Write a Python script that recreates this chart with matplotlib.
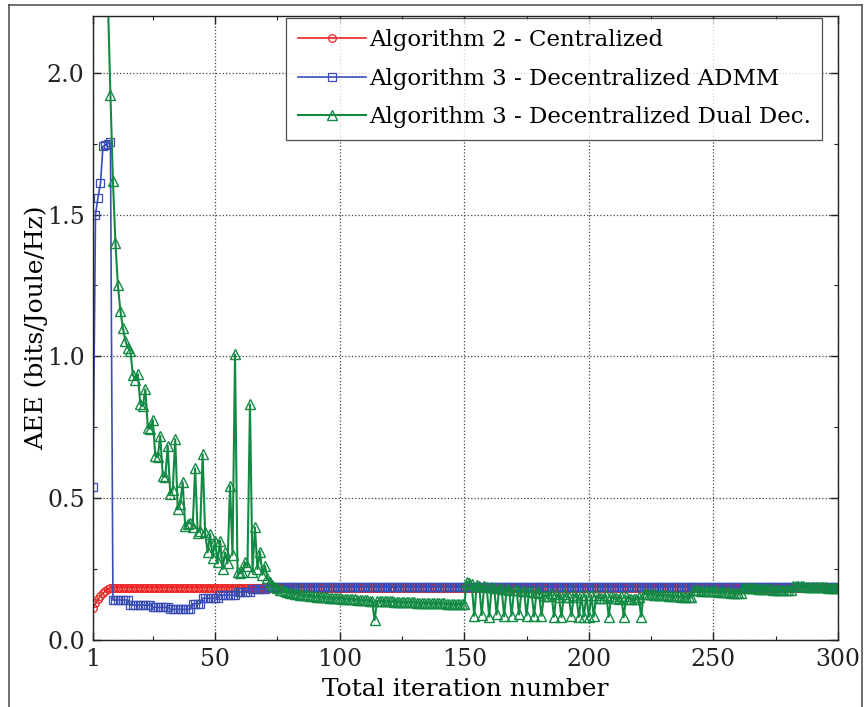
import numpy as np
import matplotlib
matplotlib.use("Agg")
import matplotlib.pyplot as plt
from matplotlib.lines import Line2D
from matplotlib.ticker import MultipleLocator, FormatStrFormatter

# Algorithm 2 - Centralized: climbs for a few iterations, then flat
central_head = [0.112, 0.129, 0.143, 0.155, 0.164, 0.174, 0.180, 0.184]
central_level = 0.185
central_tail_len = 292

# Algorithm 3 - ADMM: first 8 iterations, then stepwise plateaus
admm_head = [0.54, 1.50, 1.56, 1.61, 1.74, 1.745, 1.75, 1.755]
admm_levels = [0.141, 0.123, 0.115, 0.108, 0.128, 0.147, 0.158, 0.170, 0.180, 0.188]
admm_runs = [7, 9, 7, 9, 4, 7, 7, 6, 6, 230]

# Algorithm 3 - Dual decomposition, iterations 1..300
dual_dec = [
    6.0, 5.2, 4.5, 3.8, 3.2, 2.7, 2.25, 1.92, 1.62, 1.40,
    1.25, 1.16, 1.10, 1.055, 1.03, 1.02, 0.935, 0.917, 0.937, 0.831,
    0.825, 0.884, 0.749, 0.745, 0.776, 0.649, 0.645, 0.720, 0.578, 0.575,
    0.684, 0.514, 0.530, 0.708, 0.461, 0.480, 0.556, 0.402, 0.410, 0.414,
    0.400, 0.605, 0.379, 0.385, 0.655, 0.380, 0.309, 0.373, 0.290, 0.350,
    0.274, 0.350, 0.250, 0.309, 0.270, 0.543, 0.300, 1.007, 0.238, 0.235,
    0.240, 0.274, 0.260, 0.831, 0.240, 0.397, 0.250, 0.312, 0.230, 0.262,
    0.220, 0.205, 0.195, 0.188,
    0.184, 0.178, 0.175, 0.172, 0.169, 0.167, 0.165, 0.163, 0.162, 0.160,
    0.159, 0.158, 0.157, 0.156, 0.155, 0.154, 0.153, 0.152, 0.151, 0.150,
    0.150, 0.149, 0.148, 0.148, 0.147, 0.147, 0.146, 0.145, 0.145, 0.144,
    0.143, 0.143, 0.142, 0.141, 0.141, 0.140, 0.140, 0.139, 0.139, 0.070,
    0.138, 0.137, 0.137, 0.137, 0.136, 0.136, 0.136, 0.135, 0.135, 0.135,
    0.134, 0.134, 0.134, 0.133, 0.133, 0.133, 0.132, 0.132, 0.132, 0.131,
    0.131, 0.131, 0.130, 0.130, 0.130, 0.129, 0.129, 0.129, 0.128, 0.128,
    0.128, 0.127, 0.127, 0.127, 0.126, 0.126,
    0.205, 0.200, 0.197, 0.085, 0.195, 0.192, 0.088, 0.190, 0.188, 0.082,
    0.186, 0.184, 0.090, 0.183, 0.181, 0.083, 0.180, 0.178, 0.086, 0.177,
    0.175, 0.090, 0.174, 0.172, 0.086, 0.171, 0.169, 0.083, 0.168, 0.166,
    0.085, 0.156, 0.155, 0.154, 0.165, 0.082, 0.162, 0.153, 0.080, 0.161,
    0.152, 0.151, 0.083, 0.160, 0.151, 0.081, 0.159, 0.082, 0.158, 0.082,
    0.158, 0.083, 0.157, 0.149, 0.148, 0.148, 0.157, 0.082, 0.156, 0.147,
    0.147, 0.146, 0.155, 0.080, 0.155, 0.146, 0.145, 0.145, 0.144, 0.153,
    0.082,
    0.163, 0.162, 0.162, 0.161, 0.160, 0.160, 0.159, 0.158, 0.158, 0.157,
    0.156, 0.156, 0.155, 0.154, 0.154, 0.153, 0.152, 0.152, 0.151, 0.150,
    0.176, 0.175, 0.175, 0.174, 0.174, 0.173, 0.172, 0.172, 0.171, 0.171,
    0.170, 0.169, 0.169, 0.168, 0.168, 0.167, 0.166, 0.166, 0.165, 0.165,
    0.184, 0.184, 0.183, 0.183, 0.182, 0.182, 0.181, 0.181, 0.180, 0.180,
    0.179, 0.179, 0.178, 0.178, 0.177, 0.177, 0.176, 0.176, 0.175, 0.175,
    0.190, 0.190, 0.189, 0.189, 0.189, 0.188, 0.188, 0.188, 0.187, 0.187,
    0.187, 0.186, 0.186, 0.186, 0.185, 0.185, 0.185, 0.184, 0.184,
]

labels = ["Algorithm 2 - Centralized",
          "Algorithm 3 - Decentralized ADMM",
          "Algorithm 3 - Decentralized Dual Dec."]
x_ticks = [1, 50, 100, 150, 200, 250, 300]

central = np.array(central_head + [central_level] * central_tail_len)
admm = np.concatenate([admm_head, np.repeat(admm_levels, admm_runs)])
dual = np.array(dual_dec)
it = np.arange(1, len(dual) + 1)

plt.rcParams['font.family'] = 'DejaVu Serif'
plt.rcParams['font.size'] = 17

fig = plt.figure(figsize=(8.64, 7.07), dpi=100)
ax = fig.add_axes([93 / 864, 1 - 640 / 707, 745 / 864, 624 / 707])

ax.plot(it, central, '-', color='#ee2222', lw=1.2, marker='o', ms=5.5,
        mfc='none', mew=0.9, label=labels[0])
ax.plot(it, admm, '-', color='#3a4db5', lw=1.2, marker='s', ms=5.5,
        mfc='none', mew=0.9, label=labels[1])
ax.plot(it, dual, '-', color='#128a43', lw=1.5, marker='^', ms=7.5,
        mfc='none', mew=1.0, label=labels[2])

ax.set_xlim(1, 300)
ax.set_ylim(0, 2.2)
ax.set_xticks(x_ticks)
ax.xaxis.set_minor_locator(MultipleLocator(25))
ax.yaxis.set_major_locator(MultipleLocator(0.5))
ax.yaxis.set_minor_locator(MultipleLocator(0.25))
ax.yaxis.set_major_formatter(FormatStrFormatter('%.1f'))
ax.tick_params(which='both', direction='in', top=True, right=True,
               colors='#222222', labelsize=17)
ax.tick_params(which='major', length=6, width=1, pad=6)
ax.tick_params(which='minor', length=3, width=0.8)
ax.grid(True, which='major', linestyle=':', color='#444444', lw=0.9)
for s in ax.spines.values():
    s.set_color('#222222')
    s.set_linewidth(1.0)

ax.set_xlabel('Total iteration number', fontsize=18, labelpad=5)
ax.set_ylabel('AEE (bits/Joule/Hz)', fontsize=18, labelpad=-1)

leg = ax.legend(loc='upper right', bbox_to_anchor=(0.9785, 0.9968),
                fontsize=16.5, frameon=True, fancybox=False,
                edgecolor='#222222', handlelength=3.0, handletextpad=0.1,
                labelspacing=0.72, borderpad=0.5, borderaxespad=0)
leg.get_frame().set_linewidth(0.9)

# thin frame round the figure (left, top, right)
fc = '#555555'
fig.add_artist(Line2D([9 / 864, 9 / 864], [0, 1 - 5 / 707], color=fc, lw=1.2))
fig.add_artist(Line2D([9 / 864, 862 / 864], [1 - 5 / 707, 1 - 5 / 707], color=fc, lw=1.2))
fig.add_artist(Line2D([862 / 864, 862 / 864], [0, 1 - 5 / 707], color=fc, lw=1.2))

fig.savefig('out.png', dpi=100)
